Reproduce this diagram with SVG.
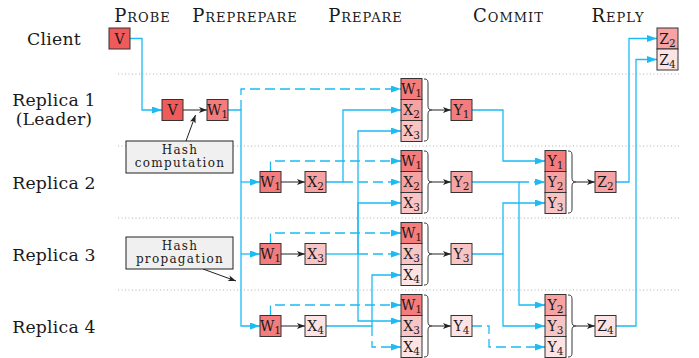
<svg xmlns="http://www.w3.org/2000/svg" width="699" height="358" viewBox="0 0 699 358">
  <style>
    text { font-family: "DejaVu Serif", "Liberation Serif", serif; fill: #1a1a1a; text-anchor: middle; }
    .lbl { font-size: 17.3px; letter-spacing: 0.2px; }
    .hdr { font-size: 18px; font-variant: small-caps; letter-spacing: 1px; }
    .note { font-size: 12px; letter-spacing: 1.3px; }
    .bt { font-size: 14px; }
    .sub { font-size: 10.5px; }
    .sep { stroke: #b0b0b0; stroke-width: 1; stroke-dasharray: 1 2.5; fill: none; }
    .box { stroke: #333; stroke-width: 1; }
    .c0 { fill: #ef5b5b; }
    .c1 { fill: #f47c7c; }
    .c2 { fill: #f7a3a3; }
    .c3 { fill: #f9c4c4; }
    .c4 { fill: #fde3e3; }
    .nbox { fill: #f0f0f0; stroke: #222; stroke-width: 1; }
    .msg { stroke: #1cbbf4; stroke-width: 1.3; fill: none; marker-end: url(#ah); }
    .dsh { stroke-dasharray: 10 5; }
    .blk { stroke: #222; stroke-width: 1; fill: none; marker-end: url(#bh); }
    .brace { stroke: #222; stroke-width: 0.9; fill: none; }
  </style>
  <defs>
    <marker id="ah" viewBox="0 0 10 7" refX="10" refY="3.5" markerWidth="10" markerHeight="7" markerUnits="userSpaceOnUse" orient="auto">
      <path d="M0,0 L10,3.5 L0,7 z" fill="#1cbbf4"/>
    </marker>
    <marker id="bh" viewBox="0 0 8 6" refX="8" refY="3" markerWidth="8" markerHeight="6" markerUnits="userSpaceOnUse" orient="auto">
      <path d="M0,0 L8,3 L0,6 L2,3 z" fill="#222"/>
    </marker>
  </defs>

  <!-- phase headers -->
  <g id="phases">
    <text class="hdr" x="142.5" y="22">Probe</text>
    <text class="hdr" x="245" y="22">Preprepare</text>
    <text class="hdr" x="365.5" y="22">Prepare</text>
    <text class="hdr" x="508.5" y="22">Commit</text>
    <text class="hdr" x="618" y="22">Reply</text>
  </g>

  <!-- row labels -->
  <g id="rows">
    <text class="lbl" x="54" y="45">Client</text>
    <text class="lbl" x="54" y="106">Replica 1</text>
    <text class="lbl" x="54" y="125">(Leader)</text>
    <text class="lbl" x="54" y="188.5">Replica 2</text>
    <text class="lbl" x="54" y="260.5">Replica 3</text>
    <text class="lbl" x="54" y="332.5">Replica 4</text>
  </g>

  <!-- row separators -->
  <g id="separators">
    <line class="sep" x1="118" y1="74" x2="680" y2="74"/>
    <line class="sep" x1="118" y1="146" x2="680" y2="146"/>
    <line class="sep" x1="118" y1="218" x2="680" y2="218"/>
    <line class="sep" x1="118" y1="290" x2="680" y2="290"/>
  </g>

  <!-- message connectors -->
  <g id="connectors">
    <path class="msg" d="M130,38.5 H142 V110 H162"/>
    <path class="msg" d="M228,110 H241 V326 H260"/>
    <path class="msg" d="M241,182 H260"/>
    <path class="msg" d="M241,254 H260"/>
    <path class="msg dsh" d="M241,110 V89 H401"/>
    <path class="msg dsh" d="M270.5,171.5 V161 H401"/>
    <path class="msg dsh" d="M270.5,243.5 V233 H401"/>
    <path class="msg dsh" d="M270.5,315.5 V305 H401"/>
    <path class="msg" d="M326,182 H343 V110 H401"/>
    <path class="msg dsh" d="M343,182 H401"/>
    <path class="msg" style="marker-end:none" d="M326,254 H358"/>
    <path class="msg" d="M358,254 V131 H401"/>
    <path class="msg" d="M358,254 V203 H401"/>
    <path class="msg" d="M358,254 V321 H401"/>
    <path class="msg dsh" d="M358,254 H401"/>
    <path class="msg" d="M326,326 H372 V275 H401"/>
    <path class="msg dsh" d="M372,326 V347 H401"/>
    <path class="msg" d="M472,110 H503 V161 H545"/>
    <path class="msg" d="M472,182 H519 V305 H545"/>
    <path class="msg dsh" d="M519,182 H545"/>
    <path class="msg" d="M472,254 H503 V203 H545"/>
    <path class="msg" d="M503,254 V326 H545"/>
    <path class="msg dsh" d="M472,326 H489 V347 H545"/>
    <path class="msg" d="M616,182 H629 V38.5 H657"/>
    <path class="msg" d="M616,326 H636 V59.5 H657"/>

    <!-- local steps -->
    <path class="blk" d="M183,110 H207"/>
    <path class="blk" d="M281,182 H305"/>
    <path class="blk" d="M281,254 H305"/>
    <path class="blk" d="M281,326 H305"/>
    <path class="blk" d="M432,110 H451"/>
    <path class="blk" d="M432,182 H451"/>
    <path class="blk" d="M432,254 H451"/>
    <path class="blk" d="M432,326 H451"/>
    <path class="blk" d="M576,182 H595"/>
    <path class="blk" d="M576,326 H595"/>
    <path class="blk" d="M186,141 L195.5,115"/>
    <path class="blk" d="M203,269 L236,281"/>
  </g>

  <!-- braces grouping received messages -->
  <g id="braces">
    <path class="brace" d="M424,79 C427.5,79 428,80.5 428,84 V106 C428,108.5 429,110 432,110 C429,110 428,111.5 428,114 V136 C428,139.5 427.5,141 424,141"/>
    <path class="brace" d="M424,151 C427.5,151 428,152.5 428,156 V178 C428,180.5 429,182 432,182 C429,182 428,183.5 428,186 V208 C428,211.5 427.5,213 424,213"/>
    <path class="brace" d="M424,223 C427.5,223 428,224.5 428,228 V250 C428,252.5 429,254 432,254 C429,254 428,255.5 428,258 V280 C428,283.5 427.5,285 424,285"/>
    <path class="brace" d="M424,295 C427.5,295 428,296.5 428,300 V322 C428,324.5 429,326 432,326 C429,326 428,327.5 428,330 V352 C428,355.5 427.5,357 424,357"/>
    <path class="brace" d="M568,151 C571.5,151 572,152.5 572,156 V178 C572,180.5 573,182 576,182 C573,182 572,183.5 572,186 V208 C572,211.5 571.5,213 568,213"/>
    <path class="brace" d="M568,295 C571.5,295 572,296.5 572,300 V322 C572,324.5 573,326 576,326 C573,326 572,327.5 572,330 V352 C572,355.5 571.5,357 568,357"/>
  </g>

  <!-- annotations -->
  <g id="hash-computation">
    <rect class="nbox" x="126" y="141" width="107" height="32"/>
    <text class="note" x="180" y="153.5">Hash</text>
    <text class="note" x="180" y="167">computation</text>
  </g>
  <g id="hash-propagation">
    <rect class="nbox" x="126" y="237" width="107" height="32"/>
    <text class="note" x="180" y="249.5">Hash</text>
    <text class="note" x="180" y="263">propagation</text>
  </g>

  <!-- client -->
  <g id="client-v">
    <rect class="box c0" x="109" y="28" width="21" height="21"/>
    <text class="bt" x="119.5" y="43.5">V</text>
  </g>
  <g id="client-reply">
    <rect class="box c2" x="657" y="28" width="21" height="21"/>
    <text class="bt" x="667.5" y="43.5">Z<tspan class="sub" dy="3">2</tspan></text>
    <rect class="box c4" x="657" y="49" width="21" height="21"/>
    <text class="bt" x="667.5" y="64.5">Z<tspan class="sub" dy="3">4</tspan></text>
  </g>

  <!-- replica 1 -->
  <g id="r1-v">
    <rect class="box c0" x="162" y="99.5" width="21" height="21"/>
    <text class="bt" x="172.5" y="115">V</text>
  </g>
  <g id="r1-w1">
    <rect class="box c1" x="207" y="99.5" width="21" height="21"/>
    <text class="bt" x="217.5" y="115">W<tspan class="sub" dy="3">1</tspan></text>
  </g>
  <g id="r1-prepare">
    <rect class="box c1" x="401" y="78.5" width="21" height="21"/>
    <text class="bt" x="411.5" y="94">W<tspan class="sub" dy="3">1</tspan></text>
    <rect class="box c2" x="401" y="99.5" width="21" height="21"/>
    <text class="bt" x="411.5" y="115">X<tspan class="sub" dy="3">2</tspan></text>
    <rect class="box c3" x="401" y="120.5" width="21" height="21"/>
    <text class="bt" x="411.5" y="136">X<tspan class="sub" dy="3">3</tspan></text>
  </g>
  <g id="r1-y1">
    <rect class="box c1" x="451" y="99.5" width="21" height="21"/>
    <text class="bt" x="461.5" y="115">Y<tspan class="sub" dy="3">1</tspan></text>
  </g>

  <!-- replica 2 -->
  <g id="r2-w1">
    <rect class="box c1" x="260" y="171.5" width="21" height="21"/>
    <text class="bt" x="270.5" y="187">W<tspan class="sub" dy="3">1</tspan></text>
  </g>
  <g id="r2-x2">
    <rect class="box c2" x="305" y="171.5" width="21" height="21"/>
    <text class="bt" x="315.5" y="187">X<tspan class="sub" dy="3">2</tspan></text>
  </g>
  <g id="r2-prepare">
    <rect class="box c1" x="401" y="150.5" width="21" height="21"/>
    <text class="bt" x="411.5" y="166">W<tspan class="sub" dy="3">1</tspan></text>
    <rect class="box c2" x="401" y="171.5" width="21" height="21"/>
    <text class="bt" x="411.5" y="187">X<tspan class="sub" dy="3">2</tspan></text>
    <rect class="box c3" x="401" y="192.5" width="21" height="21"/>
    <text class="bt" x="411.5" y="208">X<tspan class="sub" dy="3">3</tspan></text>
  </g>
  <g id="r2-y2">
    <rect class="box c2" x="451" y="171.5" width="21" height="21"/>
    <text class="bt" x="461.5" y="187">Y<tspan class="sub" dy="3">2</tspan></text>
  </g>
  <g id="r2-commit">
    <rect class="box c1" x="545" y="150.5" width="21" height="21"/>
    <text class="bt" x="555.5" y="166">Y<tspan class="sub" dy="3">1</tspan></text>
    <rect class="box c2" x="545" y="171.5" width="21" height="21"/>
    <text class="bt" x="555.5" y="187">Y<tspan class="sub" dy="3">2</tspan></text>
    <rect class="box c3" x="545" y="192.5" width="21" height="21"/>
    <text class="bt" x="555.5" y="208">Y<tspan class="sub" dy="3">3</tspan></text>
  </g>
  <g id="r2-z2">
    <rect class="box c2" x="595" y="171.5" width="21" height="21"/>
    <text class="bt" x="605.5" y="187">Z<tspan class="sub" dy="3">2</tspan></text>
  </g>

  <!-- replica 3 -->
  <g id="r3-w1">
    <rect class="box c1" x="260" y="243.5" width="21" height="21"/>
    <text class="bt" x="270.5" y="259">W<tspan class="sub" dy="3">1</tspan></text>
  </g>
  <g id="r3-x3">
    <rect class="box c3" x="305" y="243.5" width="21" height="21"/>
    <text class="bt" x="315.5" y="259">X<tspan class="sub" dy="3">3</tspan></text>
  </g>
  <g id="r3-prepare">
    <rect class="box c1" x="401" y="222.5" width="21" height="21"/>
    <text class="bt" x="411.5" y="238">W<tspan class="sub" dy="3">1</tspan></text>
    <rect class="box c3" x="401" y="243.5" width="21" height="21"/>
    <text class="bt" x="411.5" y="259">X<tspan class="sub" dy="3">3</tspan></text>
    <rect class="box c4" x="401" y="264.5" width="21" height="21"/>
    <text class="bt" x="411.5" y="280">X<tspan class="sub" dy="3">4</tspan></text>
  </g>
  <g id="r3-y3">
    <rect class="box c3" x="451" y="243.5" width="21" height="21"/>
    <text class="bt" x="461.5" y="259">Y<tspan class="sub" dy="3">3</tspan></text>
  </g>

  <!-- replica 4 -->
  <g id="r4-w1">
    <rect class="box c1" x="260" y="315.5" width="21" height="21"/>
    <text class="bt" x="270.5" y="331">W<tspan class="sub" dy="3">1</tspan></text>
  </g>
  <g id="r4-x4">
    <rect class="box c4" x="305" y="315.5" width="21" height="21"/>
    <text class="bt" x="315.5" y="331">X<tspan class="sub" dy="3">4</tspan></text>
  </g>
  <g id="r4-prepare">
    <rect class="box c1" x="401" y="294.5" width="21" height="21"/>
    <text class="bt" x="411.5" y="310">W<tspan class="sub" dy="3">1</tspan></text>
    <rect class="box c3" x="401" y="315.5" width="21" height="21"/>
    <text class="bt" x="411.5" y="331">X<tspan class="sub" dy="3">3</tspan></text>
    <rect class="box c4" x="401" y="336.5" width="21" height="21"/>
    <text class="bt" x="411.5" y="352">X<tspan class="sub" dy="3">4</tspan></text>
  </g>
  <g id="r4-y4">
    <rect class="box c4" x="451" y="315.5" width="21" height="21"/>
    <text class="bt" x="461.5" y="331">Y<tspan class="sub" dy="3">4</tspan></text>
  </g>
  <g id="r4-commit">
    <rect class="box c2" x="545" y="294.5" width="21" height="21"/>
    <text class="bt" x="555.5" y="310">Y<tspan class="sub" dy="3">2</tspan></text>
    <rect class="box c3" x="545" y="315.5" width="21" height="21"/>
    <text class="bt" x="555.5" y="331">Y<tspan class="sub" dy="3">3</tspan></text>
    <rect class="box c4" x="545" y="336.5" width="21" height="21"/>
    <text class="bt" x="555.5" y="352">Y<tspan class="sub" dy="3">4</tspan></text>
  </g>
  <g id="r4-z4">
    <rect class="box c4" x="595" y="315.5" width="21" height="21"/>
    <text class="bt" x="605.5" y="331">Z<tspan class="sub" dy="3">4</tspan></text>
  </g>
</svg>
